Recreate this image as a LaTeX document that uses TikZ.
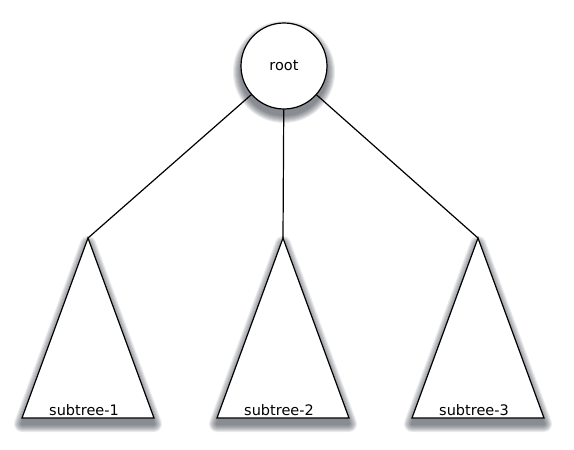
\documentclass[tikz,border=0pt]{standalone}
\usepackage{fontspec}
\setmainfont{DejaVu Sans}
\definecolor{shadowcol}{RGB}{50,56,66}
\newcommand\softshadow[1]{%
  \foreach \w in {2,4,...,16}{%
    \begin{scope}[transparency group, opacity=0.1]
      \filldraw[shadowcol, line width=\w pt, line join=round, yshift=-6pt] #1;
    \end{scope}}}
\begin{document}
\begin{tikzpicture}[x=1pt,y=-1pt, line width=1.2pt,
  lbl/.style={font=\fontsize{14.5}{16}\selectfont, anchor=base, inner sep=0pt},
  tri/.style={draw, fill=white, line join=miter}]
\useasboundingbox (0,0) rectangle (574,450);
% shadows
\softshadow{(284,66) circle[radius=43]}
\softshadow{(88,238) -- (22,418) -- (154,418) -- cycle}
\softshadow{(283,238) -- (217,418) -- (349,418) -- cycle}
\softshadow{(478,238) -- (412,418) -- (544,418) -- cycle}
% nodes
\node[circle, draw, fill=white, minimum size=86pt, inner sep=0pt,
      font=\fontsize{14.5}{16}\selectfont] (root) at (284,66) {root};
\coordinate (a1) at (88,238);
\coordinate (a2) at (283,238);
\coordinate (a3) at (478,238);
\draw[tri] (a1) -- (22,418) -- (154,418) -- cycle;
\draw[tri] (a2) -- (217,418) -- (349,418) -- cycle;
\draw[tri] (a3) -- (412,418) -- (544,418) -- cycle;
\node[lbl] (t1) at (84,415) {subtree-1};
\node[lbl] (t2) at (279,415) {subtree-2};
\node[lbl] (t3) at (474,415) {subtree-3};
\draw (root) -- (a1);
\draw (root) -- (a2);
\draw (root) -- (a3);
\end{tikzpicture}
\end{document}
